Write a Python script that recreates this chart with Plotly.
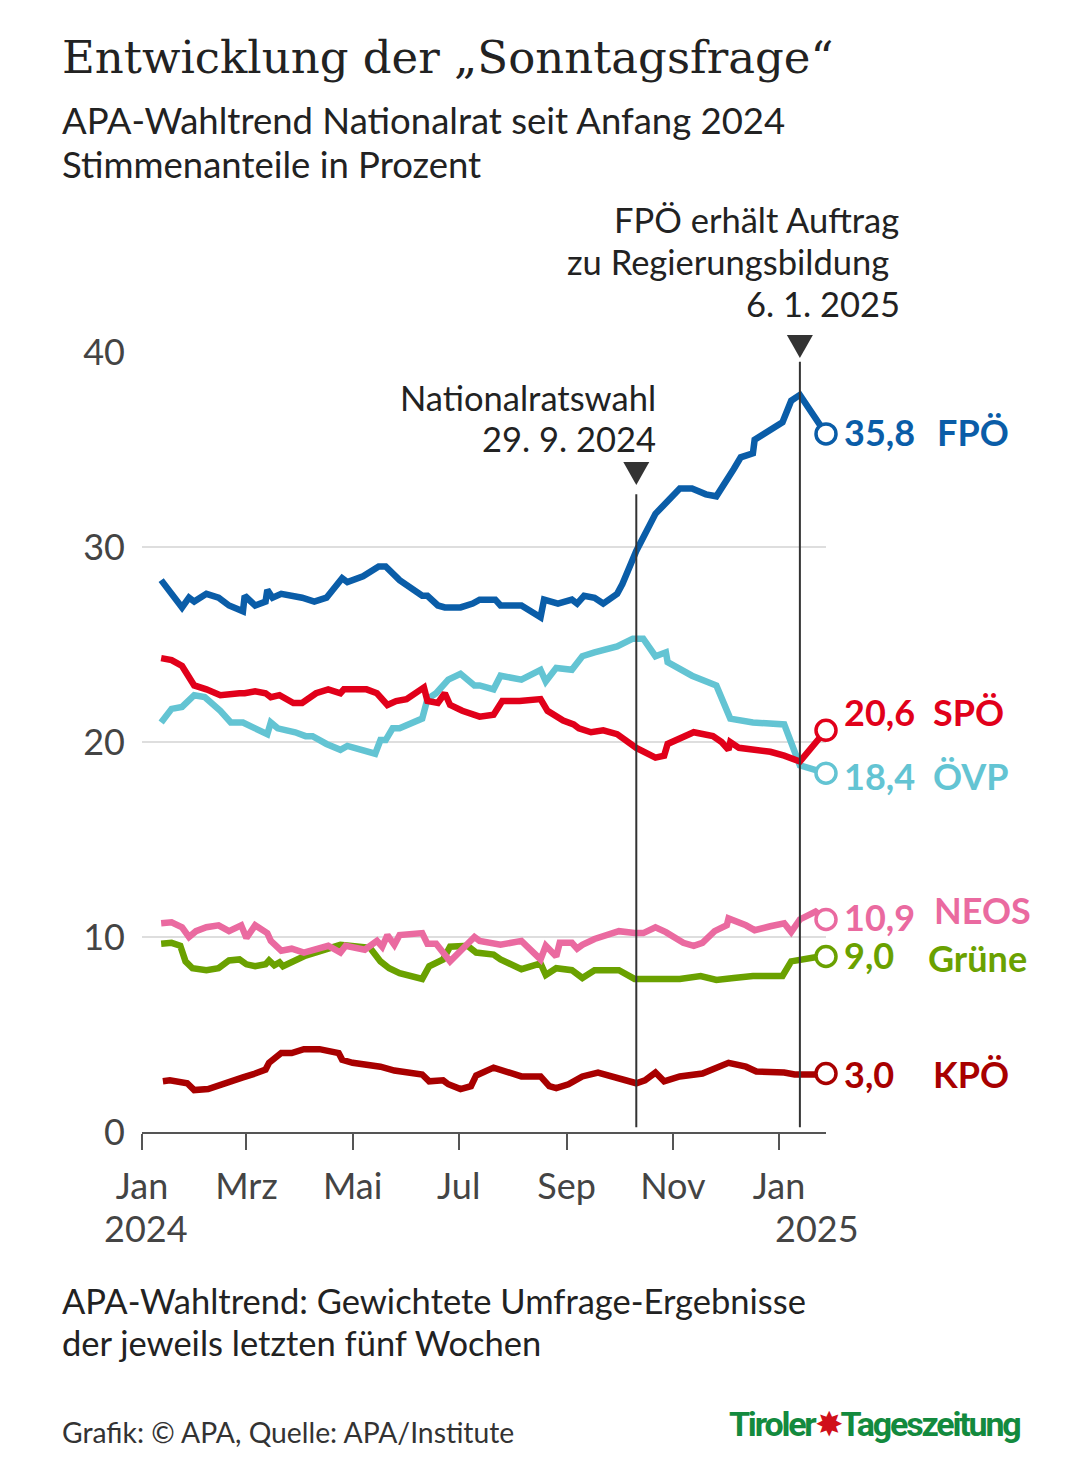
import plotly.graph_objects as go

# APA-Wahltrend, Werte in Prozent
fpoe_dates = ["2024-01-12", "2024-01-18", "2024-01-24", "2024-01-28", "2024-01-31", "2024-02-07",
              "2024-02-14", "2024-02-20", "2024-02-28", "2024-02-29", "2024-03-06", "2024-03-12",
              "2024-03-13", "2024-03-16", "2024-03-21", "2024-04-02", "2024-04-09", "2024-04-16",
              "2024-04-25", "2024-04-28", "2024-05-07", "2024-05-16", "2024-05-20", "2024-05-28",
              "2024-06-10", "2024-06-13", "2024-06-19", "2024-06-23", "2024-07-02", "2024-07-09",
              "2024-07-13", "2024-07-22", "2024-07-25", "2024-08-06", "2024-08-17", "2024-08-19",
              "2024-08-27", "2024-09-04", "2024-09-07", "2024-09-11", "2024-09-17", "2024-09-22",
              "2024-09-30", "2024-10-03", "2024-10-11", "2024-10-22", "2024-10-26", "2024-11-05",
              "2024-11-12", "2024-11-20", "2024-11-26", "2024-12-03", "2024-12-06", "2024-12-10",
              "2024-12-17", "2024-12-18", "2025-01-03", "2025-01-08", "2025-01-13", "2025-01-28"]
fpoe = [28.3, 27.6, 26.9, 27.4, 27.2, 27.6, 27.4, 27.0, 26.7, 27.5, 27.0, 27.2,
        27.8, 27.4, 27.6, 27.4, 27.2, 27.4, 28.4, 28.2, 28.5, 29.0, 29.0, 28.3,
        27.5, 27.5, 27.0, 26.9, 26.9, 27.1, 27.3, 27.3, 27.0, 27.0, 26.4, 27.3,
        27.1, 27.3, 27.1, 27.5, 27.4, 27.1, 27.6, 28.1, 29.8, 31.7, 32.1, 33.0,
        33.0, 32.7, 32.6, 33.5, 34.0, 34.6, 34.8, 35.5, 36.4, 37.5, 37.8, 35.8]

spoe_dates = ["2024-01-12", "2024-01-18", "2024-01-24", "2024-01-27", "2024-01-31", "2024-02-07",
              "2024-02-15", "2024-02-26", "2024-02-29", "2024-03-06", "2024-03-12", "2024-03-15",
              "2024-03-20", "2024-03-28", "2024-04-02", "2024-04-10", "2024-04-17", "2024-04-24",
              "2024-04-26", "2024-05-09", "2024-05-15", "2024-05-21", "2024-05-26", "2024-06-01",
              "2024-06-11", "2024-06-13", "2024-06-19", "2024-06-23", "2024-06-26", "2024-07-03",
              "2024-07-10", "2024-07-13", "2024-07-21", "2024-07-26", "2024-08-05", "2024-08-17",
              "2024-08-21", "2024-08-27", "2024-08-30", "2024-09-05", "2024-09-08", "2024-09-15",
              "2024-09-22", "2024-09-30", "2024-10-05", "2024-10-11", "2024-10-22", "2024-10-27",
              "2024-10-29", "2024-11-05", "2024-11-13", "2024-11-24", "2024-11-29", "2024-12-03",
              "2024-12-04", "2024-12-09", "2024-12-18", "2024-12-27", "2025-01-04", "2025-01-13",
              "2025-01-28"]
spoe = [24.3, 24.2, 23.9, 23.4, 22.9, 22.7, 22.4, 22.5, 22.5, 22.6, 22.5, 22.3,
        22.4, 22.0, 22.0, 22.5, 22.7, 22.5, 22.7, 22.7, 22.5, 21.9, 22.1, 22.2,
        22.8, 22.1, 22.0, 22.5, 21.9, 21.6, 21.4, 21.3, 21.4, 22.1, 22.1, 22.2,
        21.6, 21.3, 21.1, 20.9, 20.7, 20.5, 20.6, 20.4, 20.1, 19.7, 19.2, 19.3,
        19.9, 20.2, 20.5, 20.3, 20.0, 19.6, 20.0, 19.7, 19.6, 19.5, 19.3, 19.0,
        20.6]

oevp_dates = ["2024-01-12", "2024-01-18", "2024-01-24", "2024-01-31", "2024-02-06", "2024-02-15",
              "2024-02-21", "2024-02-28", "2024-03-06", "2024-03-13", "2024-03-15", "2024-03-19",
              "2024-03-29", "2024-04-04", "2024-04-08", "2024-04-16", "2024-04-24", "2024-04-28",
              "2024-05-14", "2024-05-17", "2024-05-20", "2024-05-24", "2024-05-28", "2024-06-10",
              "2024-06-13", "2024-06-18", "2024-06-25", "2024-07-02", "2024-07-10", "2024-07-13",
              "2024-07-21", "2024-07-25", "2024-08-06", "2024-08-17", "2024-08-20", "2024-08-26",
              "2024-09-04", "2024-09-07", "2024-09-10", "2024-09-17", "2024-09-30", "2024-10-09",
              "2024-10-15", "2024-10-22", "2024-10-28", "2024-10-29", "2024-11-12", "2024-11-26",
              "2024-12-04", "2024-12-17", "2025-01-04", "2025-01-13", "2025-01-28"]
oevp = [21.0, 21.7, 21.8, 22.4, 22.3, 21.6, 21.0, 21.0, 20.7, 20.4, 21.0, 20.7,
        20.5, 20.3, 20.3, 19.9, 19.6, 19.8, 19.4, 20.1, 20.1, 20.7, 20.7, 21.2,
        22.2, 22.5, 23.2, 23.5, 22.9, 22.9, 22.7, 23.4, 23.2, 23.7, 23.1, 23.8,
        23.7, 24.1, 24.4, 24.6, 24.9, 25.3, 25.3, 24.4, 24.6, 24.1, 23.4, 22.9,
        21.2, 21.0, 20.9, 18.8, 18.4]

neos_dates = ["2024-01-12", "2024-01-18", "2024-01-24", "2024-01-28", "2024-02-01", "2024-02-07",
              "2024-02-14", "2024-02-20", "2024-02-27", "2024-03-01", "2024-03-06", "2024-03-13",
              "2024-03-15", "2024-03-17", "2024-03-21", "2024-03-27", "2024-04-03", "2024-04-17",
              "2024-04-24", "2024-04-27", "2024-05-08", "2024-05-15", "2024-05-18", "2024-05-21",
              "2024-05-25", "2024-05-28", "2024-06-10", "2024-06-13", "2024-06-18", "2024-06-26",
              "2024-07-10", "2024-07-13", "2024-07-25", "2024-08-06", "2024-08-17", "2024-08-20",
              "2024-08-26", "2024-08-28", "2024-09-04", "2024-09-07", "2024-09-10", "2024-09-17",
              "2024-10-01", "2024-10-10", "2024-10-15", "2024-10-22", "2024-10-28", "2024-11-07",
              "2024-11-13", "2024-11-18", "2024-11-25", "2024-12-02", "2024-12-03", "2024-12-13",
              "2024-12-18", "2024-12-27", "2025-01-04", "2025-01-08", "2025-01-13", "2025-01-22",
              "2025-01-28"]
neos = [10.7, 10.75, 10.5, 10.0, 10.3, 10.5, 10.6, 10.3, 10.6, 9.95, 10.6, 10.2,
        9.8, 9.6, 9.3, 9.4, 9.2, 9.55, 9.2, 9.55, 9.35, 9.8, 9.5, 10.1,
        9.6, 10.1, 10.2, 9.65, 9.65, 8.75, 10.0, 9.8, 9.6, 9.8, 8.85, 9.55,
        9.0, 9.7, 9.7, 9.4, 9.6, 9.9, 10.3, 10.2, 10.2, 10.5, 10.25, 9.7,
        9.55, 9.7, 10.3, 10.6, 10.95, 10.6, 10.35, 10.55, 10.7, 10.25, 10.9, 11.3,
        10.9]

gruene_dates = ["2024-01-12", "2024-01-18", "2024-01-23", "2024-01-26", "2024-01-30", "2024-02-07",
                "2024-02-14", "2024-02-20", "2024-02-26", "2024-03-01", "2024-03-06", "2024-03-12",
                "2024-03-14", "2024-03-17", "2024-03-20", "2024-03-22", "2024-04-04", "2024-04-16",
                "2024-04-24", "2024-05-11", "2024-05-17", "2024-05-22", "2024-05-28", "2024-06-10",
                "2024-06-14", "2024-06-22", "2024-06-26", "2024-07-06", "2024-07-11", "2024-07-21",
                "2024-07-25", "2024-08-06", "2024-08-17", "2024-08-20", "2024-08-26", "2024-09-04",
                "2024-09-10", "2024-09-17", "2024-10-01", "2024-10-10", "2024-11-05", "2024-11-17",
                "2024-11-26", "2024-12-06", "2024-12-17", "2025-01-03", "2025-01-08", "2025-01-21",
                "2025-01-28"]
gruene = [9.65, 9.7, 9.55, 8.75, 8.4, 8.3, 8.4, 8.8, 8.85, 8.6, 8.5, 8.6,
          8.8, 8.55, 8.7, 8.5, 9.05, 9.35, 9.6, 9.45, 8.75, 8.4, 8.15, 7.85,
          8.5, 8.85, 9.5, 9.55, 9.2, 9.1, 8.85, 8.35, 8.65, 8.05, 8.4, 8.3,
          7.9, 8.3, 8.3, 7.85, 7.85, 8.0, 7.8, 7.9, 8.0, 8.0, 8.75, 8.95,
          9.0]

kpoe_dates = ["2024-01-13", "2024-01-17", "2024-01-27", "2024-01-31", "2024-02-08", "2024-02-20",
              "2024-02-28", "2024-03-06", "2024-03-12", "2024-03-14", "2024-03-21", "2024-03-27",
              "2024-04-03", "2024-04-12", "2024-04-23", "2024-04-25", "2024-05-01", "2024-05-17",
              "2024-05-25", "2024-06-10", "2024-06-14", "2024-06-22", "2024-06-25", "2024-07-02",
              "2024-07-08", "2024-07-11", "2024-07-21", "2024-08-06", "2024-08-17", "2024-08-22",
              "2024-08-26", "2024-09-02", "2024-09-10", "2024-09-19", "2024-10-01", "2024-10-11",
              "2024-10-16", "2024-10-22", "2024-10-27", "2024-11-05", "2024-11-18", "2024-12-03",
              "2024-12-13", "2024-12-19", "2025-01-04", "2025-01-10", "2025-01-23", "2025-01-28"]
kpoe = [2.6, 2.65, 2.5, 2.15, 2.2, 2.6, 2.8, 3.0, 3.2, 3.55, 4.05, 4.05,
        4.25, 4.25, 4.05, 3.7, 3.55, 3.35, 3.15, 2.95, 2.6, 2.65, 2.45, 2.2,
        2.35, 2.9, 3.3, 2.85, 2.85, 2.35, 2.25, 2.45, 2.85, 3.05, 2.75, 2.5,
        2.65, 3.05, 2.6, 2.85, 3.0, 3.55, 3.35, 3.1, 3.05, 2.95, 2.95, 3.0]

month_ticks = ["2024-01-01", "2024-03-01", "2024-05-01", "2024-07-01", "2024-09-01", "2024-11-01", "2025-01-01"]
month_labels = ["Jan", "Mrz", "Mai", "Jul", "Sep", "Nov", "Jan"]
event_dates = ["2024-10-11", "2025-01-13"]

# the page body has an 8px margin, so the figure is drawn 8px smaller and shifted
BODY = 8
W, H = 1080 - BODY, 1464 - BODY
PL, PR, PT, PB = 142, 826, 352, 1132
FONT = "Lato"
TXT = "#222222"
GREY = "#444444"


def px(x):
    return (x - PL) / (PR - PL)


def py(y):
    return (PB - y) / (PB - PT)


# name, dates, values, colour, y offset value label, y offset name, name x shift
parties = [
    ("KPÖ", kpoe_dates, kpoe, "#a80000", 0, 0, 106),
    ("Grüne", gruene_dates, gruene, "#6aa100", 2, -1, 101),
    ("NEOS", neos_dates, neos, "#ea6aa0", 2, 9, 107),
    ("ÖVP", oevp_dates, oevp, "#63c4d3", -3, -3, 106),
    ("SPÖ", spoe_dates, spoe, "#e1001a", 18, 18, 106),
    ("FPÖ", fpoe_dates, fpoe, "#0a5da8", 2, 2, 110),
]

fig = go.Figure()
annotations = []

for name, dates, vals, col, dy_val, dy_name, name_dx in parties:
    fig.add_trace(go.Scatter(
        x=dates, y=vals, mode="lines", line=dict(color=col, width=6.5),
        hoverinfo="skip", showlegend=False,
    ))
    fig.add_trace(go.Scatter(
        x=[dates[-1]], y=[vals[-1]], mode="markers", cliponaxis=False,
        marker=dict(size=20, color="white", line=dict(color=col, width=3.5)),
        showlegend=False, hoverinfo="skip",
    ))
    annotations.append(dict(
        x=dates[-1], y=vals[-1], xref="x", yref="y", xanchor="left", yanchor="middle",
        xshift=17, yshift=dy_val, showarrow=False, borderpad=0,
        text="<b>" + f"{vals[-1]:.1f}".replace(".", ",") + "</b>",
        font=dict(family=FONT, size=36, color=col),
    ))
    annotations.append(dict(
        x=dates[-1], y=vals[-1], xref="x", yref="y", xanchor="left", yanchor="middle",
        xshift=name_dx, yshift=dy_name, showarrow=False, borderpad=0,
        text="<b>" + name + "</b>", font=dict(family=FONT, size=36, color=col),
    ))

# Ereignis-Linien, Dreiecke (Pixelgröße) knapp darüber
event_tops = [32.7, 39.5]
triangle_tops = [py(462), py(335)]
for d, top, tri in zip(event_dates, event_tops, triangle_tops):
    fig.add_shape(type="line", xref="x", yref="y", x0=d, x1=d, y0=0.25, y1=top,
                  line=dict(color="#333333", width=2))
    fig.add_shape(type="path", xref="x", yref="paper", xsizemode="pixel", ysizemode="pixel",
                  xanchor=d, yanchor=tri, path="M -13 0 L 13 0 L 0 -23 Z",
                  fillcolor="#333333", line=dict(width=0))


def text(x, y, s, size=34.5, anchor="left", color=TXT, family=FONT):
    annotations.append(dict(
        x=px(x), y=py(y), xref="paper", yref="paper", xanchor=anchor, yanchor="middle",
        text=s, showarrow=False, font=dict(family=family, size=size, color=color),
    ))


text(60, 57, "Entwicklung der „Sonntagsfrage“", size=45, family="DejaVu Serif")
text(60, 120, "APA-Wahltrend Nationalrat seit Anfang 2024", size=36.5)
text(60, 164, "Stimmenanteile in Prozent", size=36.5)

text(901, 220, "FPÖ erhält Auftrag", anchor="right")
text(891, 262, "zu Regierungsbildung", anchor="right")
text(902, 303, "6. 1. 2025", anchor="right")
text(658, 397, "Nationalratswahl", anchor="right")
text(658, 438, "29. 9. 2024", anchor="right")

text(146, 1228, "2024", size=36, anchor="center", color=GREY)
text(817, 1228, "2025", size=36, anchor="center", color=GREY)

text(60, 1300, "APA-Wahltrend: Gewichtete Umfrage-Ergebnisse")
text(60, 1342, "der jeweils letzten fünf Wochen")
text(60, 1432, "Grafik: © APA, Quelle: APA/Institute", size=28.3, color="#333333")
text(1022, 1424,
     "<span style='letter-spacing:-2.2px'><b>Tiroler</b>"
     "<span style='color:#d0101a'>✸</span><b>Tageszeitung</b></span>",
     size=34, anchor="right", color="#138a3e", family="Roboto")

fig.update_layout(
    width=W, height=H,
    margin=dict(l=PL - BODY, r=W - (PR - BODY), t=PT - BODY, b=H - (PB - BODY), pad=0),
    paper_bgcolor="white", plot_bgcolor="white",
    showlegend=False,
    annotations=annotations,
    font=dict(family=FONT, color=GREY),
)
fig.update_xaxes(
    type="date", range=["2024-01-01", "2025-01-28"],
    tickvals=month_ticks, ticktext=month_labels,
    showgrid=False, zeroline=False,
    showline=True, linecolor="#555555", linewidth=2,
    ticks="outside", ticklen=16, tickwidth=2, tickcolor="#555555",
    tickfont=dict(family=FONT, size=36, color=GREY),
    ticklabelstandoff=6,
)
fig.update_yaxes(
    range=[0, 40], tickvals=[0, 10, 20, 30, 40],
    showgrid=True, gridcolor="#dedede", gridwidth=2,
    zeroline=False, showline=False, ticks="",
    tickfont=dict(family=FONT, size=36, color=GREY),
    ticklabelstandoff=16,
)

fig.write_html("out.html")
